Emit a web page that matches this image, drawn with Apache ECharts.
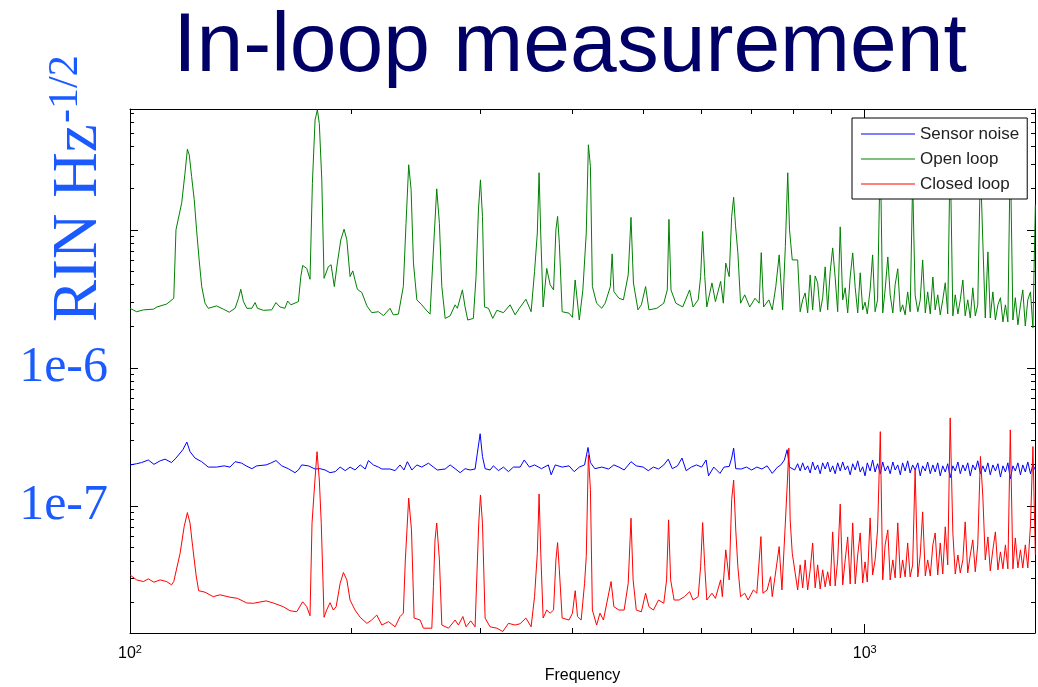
<!DOCTYPE html>
<html>
<head>
<meta charset="utf-8">
<title>In-loop measurement</title>
<script src="https://cdn.jsdelivr.net/npm/echarts@6/dist/echarts.min.js"></script>
<style>
  html, body { margin: 0; padding: 0; background: #fff; }
  #chart { width: 1038px; height: 687px; }
</style>
</head>
<body>
<div id="chart"></div>
<script>
// RIN spectra: [frequency Hz, RIN in units of 1e-7 Hz^-1/2]
const UNIT = 1e-7;

const sensorNoise = [
  [100, 1.98], [102.1, 2.02], [103.7, 2.06], [105.9, 2.15], [107.8, 2.0], [109.9, 2.12], [111.6, 2.18],
  [113.9, 2.06], [115.5, 2.22], [118.0, 2.55], [119.5, 2.9], [120.7, 2.47], [122.6, 2.22], [125.2, 2.09],
  [127.8, 1.91], [131.2, 1.91], [134.3, 1.95], [136.8, 1.91], [139.0, 2.09], [141.9, 2.04], [143.9, 1.95],
  [146.5, 1.86], [148.8, 1.95], [153.2, 1.98], [155.4, 2.04], [158.0, 2.13], [160.9, 1.95], [164.2, 1.86],
  [167.7, 1.74], [169.5, 1.82], [171.3, 1.98], [174.9, 1.95], [178.6, 1.85], [181.4, 1.86], [184.3, 1.82],
  [187.2, 1.74], [190.2, 1.77], [193.2, 1.91], [196.3, 1.8], [199.3, 1.91], [202.4, 1.82], [205.7, 1.98],
  [209.0, 1.85], [211.1, 2.13], [214.4, 1.98], [217.8, 1.91], [220.2, 1.85], [225.9, 1.85], [229.5, 1.8],
  [233.1, 1.98], [236.0, 1.82], [238.5, 2.09], [241.9, 1.82], [245.7, 1.98], [249.5, 1.91], [254.8, 2.04],
  [258.8, 1.91], [262.0, 1.82], [268.5, 1.85], [272.7, 1.98], [277.0, 1.86], [281.4, 1.74], [285.8, 1.86],
  [290.3, 1.82], [294.9, 1.85], [297.0, 2.41], [299.6, 3.33], [301.8, 2.28], [304.3, 1.86], [309.1, 1.82],
  [312.3, 1.95], [317.3, 1.8], [322.3, 1.91], [327.4, 1.77], [332.5, 1.91], [339.6, 1.91], [344.0, 2.15],
  [349.6, 1.91], [355.3, 1.98], [363.1, 1.86], [371.0, 1.98], [374.3, 1.68], [379.1, 1.98], [387.4, 1.91],
  [395.8, 1.95], [402.3, 1.77], [408.8, 1.91], [415.6, 1.98], [420.1, 2.65], [423.3, 2.06], [429.2, 1.86],
  [438.6, 1.91], [448.2, 1.85], [455.6, 1.98], [462.9, 1.91], [470.5, 1.82], [480.7, 2.09], [488.7, 1.95],
  [499.4, 1.91], [507.4, 1.8], [515.7, 1.91], [524.0, 1.85], [532.7, 1.98], [540.2, 2.18], [547.1, 1.86],
  [556.1, 1.95], [564.0, 2.22], [571.4, 1.8], [580.8, 1.91], [590.1, 1.98], [599.8, 1.91], [608.3, 2.15],
  [612.9, 1.65], [623.0, 1.91], [635.3, 1.72], [643.4, 1.91], [653.9, 1.93], [659.0, 2.22], [663.1, 2.62],
  [667.5, 1.86], [679.1, 1.85], [690.2, 1.91], [701.6, 1.82], [713.0, 1.91], [724.6, 1.85], [736.5, 1.95],
  [748.4, 1.72], [760.8, 1.91], [768.8, 1.98], [777.3, 2.15], [784.1, 2.55], [790.0, 1.91], [802.8, 1.82],
  [810.4, 2.02], [816.8, 1.79], [823.2, 2.05], [829.7, 1.82], [836.2, 1.95], [842.8, 1.73], [849.4, 2.08],
  [856.1, 1.82], [862.8, 1.98], [869.7, 1.71], [876.5, 2.05], [883.4, 1.85], [890.3, 2.08], [897.4, 1.76],
  [904.4, 1.95], [911.5, 1.71], [918.7, 2.05], [926.0, 1.79], [933.3, 2.08], [940.6, 1.82], [948.0, 1.95],
  [955.4, 1.68], [963.0, 2.02], [970.6, 1.82], [978.2, 2.12], [985.9, 1.76], [993.6, 1.92], [1001, 1.65],
  [1008, 2.05], [1017, 1.79], [1025, 2.15], [1033, 1.76], [1041, 2.02], [1050, 1.71], [1058, 2.08],
  [1066, 1.79], [1075, 1.95], [1083, 1.71], [1092, 2.08], [1100, 1.82], [1109, 1.98], [1118, 1.68],
  [1126, 2.05], [1135, 1.79], [1144, 2.12], [1153, 1.73], [1162, 1.98], [1171, 1.82], [1181, 2.05],
  [1190, 1.65], [1199, 1.95], [1209, 1.79], [1218, 2.08], [1228, 1.71], [1238, 1.98], [1247, 1.76],
  [1257, 2.05], [1267, 1.65], [1277, 1.95], [1287, 1.76], [1297, 2.02], [1307, 1.6], [1318, 1.95],
  [1328, 1.79], [1339, 2.08], [1349, 1.71], [1360, 1.98], [1370, 1.79], [1381, 2.05], [1392, 1.65],
  [1403, 1.98], [1414, 1.82], [1425, 2.12], [1437, 1.71], [1448, 1.95], [1459, 1.76], [1471, 2.05],
  [1482, 1.68], [1494, 1.98], [1506, 1.79], [1518, 2.02], [1530, 1.62], [1542, 1.95], [1554, 1.76],
  [1566, 2.05], [1578, 1.57], [1591, 1.95], [1603, 1.79], [1616, 2.05], [1629, 1.68], [1641, 1.98],
  [1654, 1.76], [1667, 2.08], [1681, 1.71], [1694, 1.98], [1707, 1.82]
];

const openLoop = [
  [100, 27.0], [102.1, 25.5], [104.3, 26.3], [107.6, 26.6], [108.8, 27.6], [112.2, 29.0], [114.7, 31.9],
  [115.5, 100], [117.6, 157], [118.8, 257], [119.7, 383], [120.4, 349], [121.3, 243], [122.3, 165],
  [123.2, 100], [124.2, 60.5], [125.2, 38.8], [126.5, 29.4], [127.8, 27.0], [131.2, 28.1], [134.0, 26.6],
  [136.5, 25.3], [139.0, 27.0], [140.5, 31.9], [141.5, 37.1], [142.7, 30.2], [144.2, 27.0], [146.5, 27.0],
  [148.0, 29.7], [149.1, 27.0], [151.9, 26.1], [155.9, 26.3], [158.0, 29.7], [160.0, 27.6], [162.5, 27.0],
  [163.9, 30.5], [165.6, 28.6], [169.5, 30.2], [170.8, 45.8], [171.8, 55.1], [174.0, 52.5], [175.8, 43.8],
  [177.1, 217], [178.6, 625], [179.9, 740], [181.0, 588], [182.4, 230], [183.7, 44.5], [186.2, 54.1],
  [187.8, 55.8], [189.7, 38.8], [191.5, 57.4], [193.6, 84.5], [195.6, 101], [197.3, 84.5], [199.3, 45.8],
  [201.0, 50.4], [202.4, 43.3], [203.9, 37.1], [206.8, 35.1], [210.1, 28.1], [213.3, 25.1], [217.8, 25.5],
  [221.3, 23.9], [225.9, 27.0], [228.2, 24.2], [231.9, 24.5], [235.5, 38.8], [237.5, 111], [239.5, 296],
  [241.3, 196], [243.1, 57.4], [245.7, 31.1], [249.5, 28.6], [253.5, 25.9], [256.1, 24.5], [258.8, 71.5],
  [261.5, 198], [263.7, 111], [265.7, 38.8], [268.5, 22.8], [272.7, 23.8], [277.0, 28.6], [279.0, 27.0],
  [283.4, 36.7], [285.8, 27.6], [288.2, 22.2], [293.3, 22.8], [295.8, 45.8], [298.0, 139], [299.9, 230],
  [301.8, 125], [303.7, 27.6], [307.5, 27.0], [311.7, 22.8], [315.7, 26.1], [322.3, 25.1], [329.1, 28.6],
  [334.3, 24.2], [338.8, 27.0], [345.8, 31.4], [351.5, 25.5], [355.3, 49.8], [358.4, 94.8], [360.4, 259],
  [362.3, 91.8], [365.0, 27.6], [369.1, 52.5], [373.1, 40.0], [377.1, 36.7], [379.9, 100], [381.9, 125],
  [384.0, 79.9], [387.4, 25.5], [395.8, 24.9], [400.1, 23.2], [403.5, 43.3], [408.8, 22.2], [413.4, 36.7],
  [417.8, 94.8], [420.6, 413], [423.3, 288], [425.9, 38.8], [431.6, 29.4], [438.6, 27.0], [443.3, 29.4],
  [450.6, 38.8], [453.1, 66.9], [455.6, 35.7], [462.9, 31.9], [469.4, 31.1], [476.5, 47.1], [480.7, 123],
  [484.4, 41.2], [491.3, 26.3], [496.6, 28.6], [503.2, 38.8], [508.5, 26.3], [521.3, 27.0], [532.7, 29.4],
  [538.6, 36.7], [541.4, 119], [544.9, 36.7], [553.2, 29.4], [565.3, 27.6], [577.6, 36.7], [583.9, 27.6],
  [593.4, 31.1], [597.9, 45.8], [601.7, 97.2], [605.7, 45.8], [609.6, 27.6], [619.5, 41.2], [626.3, 30.2],
  [636.6, 42.3], [642.0, 29.4], [646.9, 57.4], [653.9, 45.8], [659.0, 125], [663.1, 172], [666.9, 108],
  [671.9, 68.3], [677.6, 29.4], [686.5, 33.8], [697.4, 27.6], [709.1, 31.9], [718.3, 29.4], [723.0, 68.3],
  [728.4, 27.6], [740.4, 31.1], [748.4, 26.3], [756.7, 38.8], [764.8, 65.8], [773.2, 26.3], [779.7, 75.5],
  [785.6, 259], [790.0, 100], [796.8, 60.5],
  [810.4, 60.5], [816.8, 25.5], [823.2, 31.1], [829.7, 34.9], [836.2, 25.0], [842.8, 47.1], [849.4, 26.3],
  [856.1, 46.3], [862.8, 41.3], [869.7, 25.5], [876.5, 32.2], [883.4, 53.9], [890.3, 26.3], [897.4, 49.6],
  [904.4, 73.9], [911.5, 44.9], [918.7, 25.5], [926.0, 105], [933.3, 31.1], [940.6, 38.0], [948.0, 25.0],
  [955.4, 45.5], [963.0, 68.0], [970.6, 38.0], [978.2, 25.0], [985.9, 48.8], [993.6, 26.3], [1001, 29.9],
  [1008, 24.6], [1017, 36.7], [1025, 65.8], [1033, 25.5], [1041, 31.1], [1050, 380], [1058, 25.0],
  [1066, 36.7], [1075, 63.6], [1083, 33.8], [1092, 25.0], [1100, 40.0], [1109, 52.2], [1118, 25.5],
  [1126, 28.6], [1135, 24.2], [1144, 35.5], [1153, 25.5], [1162, 230], [1171, 33.8], [1181, 25.5],
  [1190, 31.1], [1199, 60.5], [1209, 25.0], [1218, 35.5], [1228, 24.6], [1238, 45.5], [1247, 26.3],
  [1257, 33.8], [1267, 24.2], [1277, 31.1], [1287, 41.3], [1297, 24.6], [1307, 380], [1318, 23.8],
  [1328, 33.8], [1339, 24.6], [1349, 31.1], [1360, 43.3], [1370, 23.8], [1381, 31.1], [1392, 23.0],
  [1403, 38.0], [1414, 23.8], [1425, 28.6], [1437, 296], [1448, 80.3], [1459, 23.0], [1471, 69.2],
  [1482, 23.0], [1494, 35.5], [1506, 22.2], [1518, 28.6], [1530, 32.2], [1542, 21.5], [1554, 28.6],
  [1566, 21.5], [1578, 380], [1591, 22.2], [1603, 32.2], [1616, 20.5], [1629, 28.6], [1641, 36.7],
  [1654, 20.1], [1667, 31.1], [1681, 35.5], [1694, 19.5], [1707, 152]
];

const closedLoop = [
  [100, 0.316], [102.1, 0.291], [104.3, 0.283], [105.9, 0.296], [107.8, 0.28], [109.9, 0.291], [112.2, 0.283],
  [113.9, 0.268], [114.7, 0.283], [117.0, 0.454], [118.5, 0.708], [119.7, 0.894], [120.7, 0.749], [121.7, 0.507],
  [123.0, 0.316], [124.0, 0.243], [126.5, 0.237], [129.8, 0.22], [132.6, 0.227], [136.8, 0.218], [140.0, 0.214],
  [144.2, 0.198], [147.2, 0.197], [153.2, 0.205], [156.7, 0.198], [161.7, 0.186], [165.1, 0.174], [168.6, 0.171],
  [171.8, 0.202], [174.0, 0.186], [175.8, 0.16], [176.9, 0.749], [178.4, 1.46], [179.7, 2.47], [181.0, 1.54],
  [182.1, 0.749], [183.7, 0.156], [185.2, 0.176], [187.2, 0.199], [189.1, 0.176], [190.8, 0.186], [193.2, 0.275],
  [195.2, 0.329], [197.3, 0.291], [199.3, 0.208], [202.4, 0.176], [205.7, 0.156], [210.1, 0.141], [213.3, 0.149],
  [216.7, 0.162], [220.2, 0.137], [224.8, 0.145], [229.5, 0.133], [233.1, 0.158], [235.5, 0.167], [237.0, 0.406],
  [239.5, 1.14], [241.6, 0.67], [243.6, 0.154], [248.2, 0.149], [250.8, 0.13], [257.5, 0.13], [258.8, 0.26],
  [260.1, 0.567], [261.5, 0.752], [263.7, 0.406], [265.7, 0.137], [271.3, 0.13], [277.0, 0.149], [279.9, 0.137],
  [283.8, 0.158], [286.7, 0.133], [290.9, 0.147], [294.9, 0.133], [296.4, 0.291], [298.3, 0.749], [299.9, 1.2],
  [301.8, 0.749], [304.3, 0.154], [309.1, 0.133], [315.7, 0.13], [321.7, 0.123], [327.4, 0.141], [334.3, 0.137],
  [339.6, 0.14], [345.8, 0.154], [351.5, 0.133], [355.3, 0.22], [358.4, 0.454], [360.4, 1.22], [362.3, 0.454],
  [365.0, 0.154], [369.1, 0.176], [373.1, 0.167], [377.1, 0.176], [379.9, 0.406], [381.9, 0.542], [384.0, 0.344],
  [387.4, 0.154], [395.8, 0.149], [400.1, 0.167], [403.6, 0.243], [406.5, 0.158], [411.2, 0.149], [415.6, 0.275],
  [417.8, 0.429], [420.6, 2.34], [423.3, 1.31], [425.9, 0.176], [431.6, 0.137], [436.2, 0.167], [440.9, 0.149],
  [451.6, 0.283], [455.6, 0.186], [462.9, 0.176], [470.5, 0.176], [476.5, 0.275], [480.7, 0.814], [483.9, 0.291],
  [488.7, 0.176], [496.6, 0.171], [503.2, 0.233], [508.5, 0.186], [515.7, 0.176], [524.0, 0.208], [532.7, 0.197],
  [537.4, 0.291], [540.8, 0.792], [544.3, 0.291], [550.2, 0.208], [558.9, 0.208], [568.3, 0.22], [577.6, 0.239],
  [583.9, 0.208], [593.4, 0.22], [597.9, 0.363], [601.7, 0.757], [605.7, 0.363], [609.6, 0.208], [619.5, 0.233],
  [626.3, 0.214], [636.6, 0.291], [640.0, 0.22], [646.9, 0.48], [653.9, 0.291], [659.0, 1.11], [663.1, 1.54],
  [667.5, 0.67], [671.9, 0.363], [677.6, 0.22], [686.5, 0.233], [693.9, 0.208], [705.4, 0.246], [713.0, 0.233],
  [722.3, 0.599], [726.8, 0.233], [736.5, 0.246], [744.4, 0.307], [748.4, 0.22], [764.8, 0.507], [771.4, 0.246],
  [779.7, 0.749], [784.9, 1.54], [788.3, 2.62], [791.6, 0.792], [796.8, 0.454],
  [810.4, 0.246], [816.8, 0.374], [823.2, 0.255], [829.7, 0.406], [836.2, 0.246], [842.8, 0.344], [849.4, 0.539],
  [856.1, 0.255], [862.8, 0.374], [869.7, 0.25], [876.5, 0.344], [883.4, 0.259], [890.3, 0.333], [897.4, 0.263],
  [904.4, 0.648], [911.5, 0.263], [918.7, 0.406], [926.0, 1.03], [933.3, 0.268], [940.6, 0.406], [948.0, 0.596],
  [955.4, 0.272], [963.0, 0.753], [970.6, 0.272], [978.2, 0.441], [985.9, 0.637], [993.6, 0.277], [1001, 0.393],
  [1008, 0.281], [1017, 0.818], [1025, 0.316], [1033, 0.406], [1041, 0.67], [1050, 3.45], [1058, 0.291],
  [1066, 0.522], [1075, 0.67], [1083, 0.291], [1092, 0.406], [1100, 0.301], [1109, 0.753], [1118, 0.301],
  [1126, 0.406], [1135, 0.306], [1144, 0.539], [1153, 0.306], [1162, 0.374], [1171, 1.82], [1181, 0.306],
  [1190, 0.441], [1199, 0.905], [1209, 0.311], [1218, 0.406], [1228, 0.311], [1238, 0.522], [1247, 0.637],
  [1257, 0.316], [1267, 0.539], [1277, 0.321], [1287, 0.705], [1297, 0.374], [1307, 4.34], [1318, 0.637],
  [1328, 0.321], [1339, 0.441], [1349, 0.327], [1360, 0.406], [1370, 0.766], [1381, 0.327], [1392, 0.441],
  [1403, 0.567], [1414, 0.333], [1425, 0.522], [1437, 2.28], [1448, 1.16], [1459, 0.406], [1471, 0.596],
  [1482, 0.338], [1494, 0.48], [1506, 0.648], [1518, 0.344], [1530, 0.464], [1542, 0.35], [1554, 0.522],
  [1566, 0.35], [1578, 3.55], [1591, 0.35], [1603, 0.586], [1616, 0.355], [1629, 0.48], [1641, 0.355],
  [1654, 0.522], [1667, 0.355], [1681, 0.728], [1694, 2.69], [1707, 0.441]
];

const seriesNames = ['Sensor noise', 'Open loop', 'Closed loop'];
const seriesColors = ['#0000ff', '#008000', '#ff0000'];

// axis limits and ticks
const X_MIN = 100, X_MAX = 1705;
const Y_MIN = 1.2e-8, Y_MAX = 7.5e-5;
const xMajorTicks = [100, 1000];
const xMinorTicks = [200, 300, 400, 500, 600, 700, 800, 900];
const yMajorTicks = [1e-7, 1e-6, 1e-5];
const yMinorTicks = [
  2e-8, 3e-8, 4e-8, 5e-8, 6e-8, 7e-8, 8e-8, 9e-8,
  2e-7, 3e-7, 4e-7, 5e-7, 6e-7, 7e-7, 8e-7, 9e-7,
  2e-6, 3e-6, 4e-6, 5e-6, 6e-6, 7e-6, 8e-6, 9e-6,
  2e-5, 3e-5, 4e-5, 5e-5, 6e-5, 7e-5
];
const yLabelTicks = [1e-7, 1e-6];

const BLUE = '#1a5aff';
const SANS = '"Liberation Sans", Arial, sans-serif';
const SERIF = '"Liberation Serif", "Times New Roman", serif';

const chart = echarts.init(document.getElementById('chart'));

const logAxis = (min, max, position, ticks, len, showLine) => ({
  type: 'log',
  logBase: 10,
  min,
  max,
  position,
  axisLine: { show: showLine, onZero: false, lineStyle: { color: '#000', width: 1 } },
  axisTick: { show: true, inside: true, length: len, customValues: ticks, lineStyle: { color: '#000', width: 1 } },
  axisLabel: { show: false },
  splitLine: { show: false },
});

const xBottom = logAxis(X_MIN, X_MAX, 'bottom', xMajorTicks, 9, true);
xBottom.axisLabel = {
  show: true,
  customValues: xMajorTicks,
  margin: 11,
  formatter: (v) => `{b|10}{s|${Math.round(Math.log10(v))}}`,
  rich: {
    b: { fontFamily: SANS, fontSize: 16, color: '#000', lineHeight: 20 },
    s: { fontFamily: SANS, fontSize: 11, color: '#000', lineHeight: 11, verticalAlign: 'top' },
  },
};
xBottom.name = 'Frequency';
xBottom.nameLocation = 'middle';
xBottom.nameGap = 35;
xBottom.nameTextStyle = { fontFamily: SANS, fontSize: 16, color: '#000' };

const yLeft = logAxis(Y_MIN, Y_MAX, 'left', yMajorTicks, 8, true);
yLeft.axisLabel = {
  show: true,
  customValues: yLabelTicks,
  margin: 22,
  fontFamily: SERIF,
  fontSize: 50,
  color: BLUE,
  formatter: (v) => `1e${Math.round(Math.log10(v))}`,
};

const option = {
  animation: false,
  backgroundColor: '#fff',
  textStyle: { fontFamily: SANS },
  grid: { left: 130, right: 3, top: 109, bottom: 54, containLabel: false, outerBoundsMode: 'none' },
  legend: {
    data: seriesNames,
    orient: 'vertical',
    left: 852,
    top: 118,
    padding: [6, 8, 5, 9],
    itemGap: 5,
    itemWidth: 54,
    itemHeight: 1,
    icon: 'rect',
    backgroundColor: '#fff',
    borderColor: '#000',
    borderWidth: 1,
    borderRadius: 0,
    textStyle: { fontFamily: SANS, fontSize: 17, color: '#222', lineHeight: 20 },
  },
  xAxis: [
    xBottom,
    logAxis(X_MIN, X_MAX, 'bottom', xMinorTicks, 5, false),
    logAxis(X_MIN, X_MAX, 'top', xMajorTicks, 9, true),
    logAxis(X_MIN, X_MAX, 'top', xMinorTicks, 5, false),
  ],
  yAxis: [
    yLeft,
    logAxis(Y_MIN, Y_MAX, 'left', yMinorTicks, 4, false),
    logAxis(Y_MIN, Y_MAX, 'right', yMajorTicks, 8, true),
    logAxis(Y_MIN, Y_MAX, 'right', yMinorTicks, 4, false),
  ],
  series: [sensorNoise, openLoop, closedLoop].map((rows, i) => ({
    name: seriesNames[i],
    type: 'line',
    xAxisIndex: 0,
    yAxisIndex: 0,
    symbol: 'none',
    clip: true,
    data: rows.map(([f, v]) => [f, v * UNIT]),
    lineStyle: { color: seriesColors[i], width: 1 },
    itemStyle: { color: seriesColors[i] },
  })),
  graphic: [
    {
      type: 'text',
      x: 570,
      y: 48,
      style: {
        text: 'In-loop measurement',
        fontFamily: SANS,
        fontSize: 84,
        fill: '#000066',
        align: 'center', textAlign: 'center',
        verticalAlign: 'middle', textVerticalAlign: 'middle',
      },
    },
    {
      type: 'text',
      x: 79,
      y: 322,
      rotation: Math.PI / 2,
      style: {
        text: 'RIN Hz',
        fontFamily: SERIF,
        fontSize: 63,
        fill: BLUE,
        align: 'left', textAlign: 'left',
        verticalAlign: 'middle', textVerticalAlign: 'middle',
      },
    },
    {
      type: 'text',
      x: 66,
      y: 123,
      rotation: Math.PI / 2,
      style: {
        text: '-1/2',
        fontFamily: SERIF,
        fontSize: 42,
        fill: BLUE,
        align: 'left', textAlign: 'left',
        verticalAlign: 'middle', textVerticalAlign: 'middle',
      },
    },
  ],
};

chart.setOption(option);
</script>
</body>
</html>
